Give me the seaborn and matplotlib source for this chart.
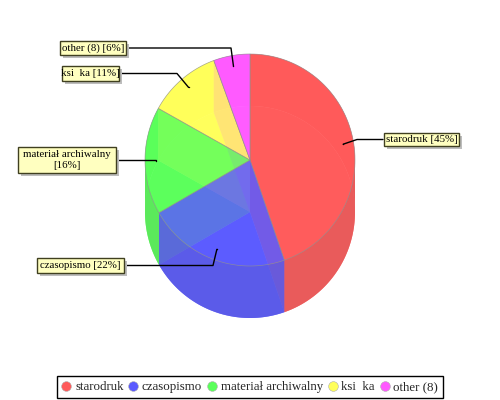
import matplotlib
matplotlib.use('Agg')
import matplotlib.pyplot as plt
from matplotlib.lines import Line2D
from matplotlib.patches import Rectangle
import numpy as np
import pandas
import seaborn as sns

CATEGORIES = ['starodruk', 'czasopismo', 'materiał archiwalny', 'ksi  ka', 'other (8)']
SHARES = [44.7, 22.0, 16.4, 11.3, 5.6]
BOX_TEXT = ['starodruk [45%]', 'czasopismo [22%]', 'materiał archiwalny\n[16%]', 'ksi  ka [11%]', 'other (8) [6%]']
COLORS = ['#ff5a5a', '#5a5aff', '#5aff5a', '#ffff5a', '#ff5aff']

CX, CY, RX, RY, DEPTH = 250, 160, 105, 106, 52
# label boxes as x0, y0, x1, y1 in pixels, and where the leader bends
BOXES = [(384, 133, 459, 146), (37, 258, 124, 273), (18, 147, 116, 173), (62, 66, 119, 81), (60, 41, 126, 55)]
BEND_X = [357, 213, None, 177, 231]


def arc(t0, t1, dy=0, n=80):
    t = np.radians(np.linspace(t0, t1, n))
    return CX + RX * np.sin(t), CY + dy - RY * np.cos(t)


def wedge(ax, t0, t1, dy, **kw):
    x, y = arc(t0, t1, dy)
    ax.fill(np.r_[CX, x], np.r_[CY + dy, y], **kw)


def wall(ax, t0, t1, **kw):
    x, y = arc(t0, t1)
    x2, y2 = arc(t1, t0, DEPTH)
    ax.fill(np.r_[x, x2], np.r_[y, y2], **kw)


def radial(ax, t, **kw):
    x, y = arc(t, t, n=1)
    ax.fill([CX, x[0], x[0], CX], [CY, y[0], y[0] + DEPTH, CY + DEPTH], **kw)


def shade(color, f):
    return tuple(np.array(color) * f)


def lighten(color, f):
    c = np.array(color)
    return tuple(c + (1 - c) * f)


sns.set_theme(style='white')
plt.rcParams['font.family'] = ['Liberation Serif', 'DejaVu Serif']
palette = sns.color_palette(COLORS)

fig = plt.figure(figsize=(5, 4), dpi=100)
ax = fig.add_axes([0, 0, 1, 1])
ax.set_xlim(0, 500)
ax.set_ylim(400, 0)
ax.axis('off')

edges = np.r_[0, np.cumsum(SHARES)] * 3.6
spans = list(zip(edges[:-1], edges[1:]))

# bottom faces and the back of the wall first, solid
for (t0, t1), c in zip(spans, palette):
    wedge(ax, t0, t1, DEPTH, color=lighten(c, 0.08), lw=0)
for (t0, t1), c in zip(spans, palette):
    for lo, hi in [(t0, min(t1, 90)), (max(t0, 270), t1)]:
        if hi > lo:
            wall(ax, lo, hi, color=c, lw=0)

for (t0, t1), c in zip(spans, palette):
    radial(ax, t0, color=c, alpha=0.25, lw=0)
    radial(ax, t1, color=c, alpha=0.25, lw=0)

# front of the wall
for (t0, t1), c in zip(spans, palette):
    lo, hi = max(t0, 90), min(t1, 270)
    if hi > lo:
        wall(ax, lo, hi, color=shade(lighten(c, 0.06), 0.9), alpha=0.88, lw=0)

for (t0, t1), c in zip(spans, palette):
    wedge(ax, t0, t1, 0, facecolor=c, alpha=0.8, edgecolor='#909090', lw=0.5)

# leader lines from the slice middles out to the boxes
mids = (edges[:-1] + edges[1:]) / 2
anchors = pandas.DataFrame({
    'x': CX + 0.9 * RX * np.sin(np.radians(mids)),
    'y': CY - 0.9 * RY * np.cos(np.radians(mids)),
})
sns.scatterplot(data=anchors, x='x', y='y', color='black', s=1, linewidth=0, legend=False, ax=ax)
ax.set_xlabel('')
ax.set_ylabel('')

for i, text in enumerate(BOX_TEXT):
    x0, y0, x1, y1 = BOXES[i]
    by = (y0 + y1) / 2
    start = x0 - 1 if x0 > CX else x1 + 2
    end_x, end_y = anchors.loc[i, 'x'], anchors.loc[i, 'y']
    if BEND_X[i]:
        ax.plot([start, BEND_X[i], end_x], [by, by, end_y], color='black', lw=1, zorder=5)
    else:
        ax.plot([start, end_x], [by, by], color='black', lw=1, zorder=5)
    ax.add_patch(Rectangle((x0 + 2.5, y0 + 2.5), x1 - x0, y1 - y0, fc='#bdbdbd', ec='none', zorder=6))
    ax.add_patch(Rectangle((x0, y0), x1 - x0, y1 - y0, fc='#ffffc0', ec='#404020', lw=1, zorder=7))
    ax.text((x0 + x1) / 2, by, text, ha='center', va='center', fontsize=7.8, linespacing=1.25, color='black', zorder=8)

handles = [Line2D([], [], marker='o', ls='', ms=7, mfc=c, mec='#b0b0b0', mew=0.4, label=n)
           for n, c in zip(CATEGORIES, palette)]
leg = ax.legend(handles=handles, ncol=5, loc='center', bbox_to_anchor=(250 / 500, 1 - 387 / 400), fontsize=9.3,
                frameon=True, fancybox=False, framealpha=1, edgecolor='black', columnspacing=0.4,
                handletextpad=0.33, borderpad=0.35, handlelength=0.7, borderaxespad=0)
leg.get_frame().set_linewidth(1)

fig.savefig('out.png', dpi=100)
